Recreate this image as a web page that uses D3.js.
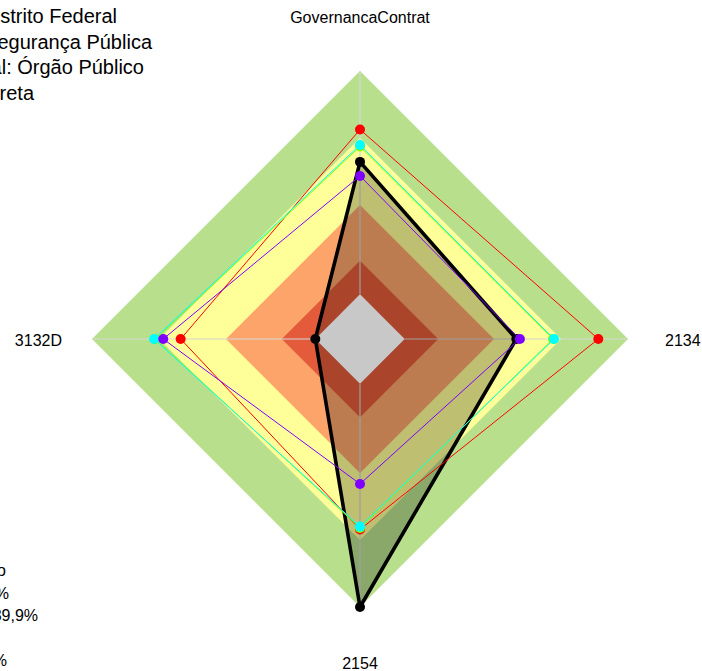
<!DOCTYPE html>
<html>
<head>
<meta charset="utf-8">
<script src="https://cdn.jsdelivr.net/npm/d3@7"></script>
<style>
  html, body { margin: 0; padding: 0; background: #ffffff; }
  svg { display: block; font-family: "Liberation Sans", Arial, sans-serif; }
</style>
</head>
<body>
<svg id="chart" width="702" height="671"></svg>
<script>
// Axes of the radar, clockwise from the top
const axes = ["GovernancaContrat", "2134", "2154", "3132D"];

// Score bands (percent), outermost first, and their fill colours
const bandLimits = [100, 70, 40, 15];
const bandColors = ["#b8e08c", "#ffff99", "#fda46b", "#e35b3a"];

// Series values per axis (percent)
const seriesNames  = ["Órgão", "Média Poder", "Média Esfera", "Média Tipo", "Média Geral"];
const seriesColors = ["#000000", "#ff0000", "#7fff00", "#00ffff", "#8000ff"];
const seriesValues = [
  [59.3, 50.0, 100.0, 0.0],
  [73.8, 86.7, 65.3, 60.3],
  [66.2, 66.4, 64.6, 71.6],
  [66.9, 66.9, 64.0, 72.2],
  [53.0, 51.6, 44.9, 68.1]
];

// Header and legend texts
const titleLines = ["Distrito Federal", "Segurança Pública", "Natureza Institucional: Órgão Público", "Administração Direta"];
const legendLines = ["Classificação", "Inicial: 0 a 14,9%", "Intermediário: 15 a 39,9%", "Aprimorado: 40 a 69,9%", "Avançado: 70 a 100%"];

const svg = d3.select("#chart");
const cx = 360, cy = 339, R = 268;

// fmsb-style radius: value 0 sits on the inner hole (1/6 of the radius)
const r = d3.scaleLinear().domain([0, 100]).range([R / 6, R]);
const angle = d3.scalePoint().domain(axes).range([0, 2 * Math.PI * 3 / 4]);

const pt = (axis, v) => {
  const a = angle(axis) - Math.PI / 2;
  return [cx + r(v) * Math.cos(a), cy + r(v) * Math.sin(a)];
};
const ring = v => axes.map(a => pt(a, v));
const closed = d3.line().curve(d3.curveLinearClosed);

// Coloured score bands
svg.append("g").selectAll("path")
  .data(bandLimits)
  .join("path")
  .attr("d", v => closed(ring(v)))
  .attr("fill", (v, i) => bandColors[i]);

// Axis spokes
svg.append("g").selectAll("line")
  .data(axes)
  .join("line")
  .attr("x1", a => pt(a, 0)[0]).attr("y1", a => pt(a, 0)[1])
  .attr("x2", a => pt(a, 100)[0]).attr("y2", a => pt(a, 100)[1])
  .attr("stroke", "#d6d6d6")
  .attr("stroke-width", 1.2);

// Filled area of the main series
svg.append("path")
  .attr("d", closed(axes.map((a, j) => pt(a, seriesValues[0][j]))))
  .attr("fill", "#000000")
  .attr("fill-opacity", 0.25);

// Empty centre
svg.append("path")
  .attr("d", closed(ring(0)))
  .attr("fill", "#c8c8c8");

// Series outlines and points
seriesValues.forEach((vals, i) => {
  const g = svg.append("g");
  const pts = axes.map((a, j) => pt(a, vals[j]));
  g.append("path")
    .attr("d", closed(pts))
    .attr("fill", "none")
    .attr("stroke", seriesColors[i])
    .attr("stroke-width", i === 0 ? 3.6 : 1)
    .attr("stroke-linejoin", "round");
  g.selectAll("circle")
    .data(pts)
    .join("circle")
    .attr("cx", d => d[0]).attr("cy", d => d[1])
    .attr("r", 5)
    .attr("fill", seriesColors[i]);
});

// Axis labels
const labelPos = [
  { x: cx, y: 23, anchor: "middle" },
  { x: 665, y: 346, anchor: "start" },
  { x: cx, y: 669, anchor: "middle" },
  { x: 62, y: 346, anchor: "end" }
];
svg.append("g").selectAll("text")
  .data(axes)
  .join("text")
  .attr("x", (d, i) => labelPos[i].x)
  .attr("y", (d, i) => labelPos[i].y)
  .attr("text-anchor", (d, i) => labelPos[i].anchor)
  .attr("font-size", 16)
  .attr("fill", "#000")
  .text(d => d);

// Header block (top left)
const titleEnds = [117, 152, 144, 34];
svg.append("g").selectAll("text")
  .data(titleLines)
  .join("text")
  .attr("x", (d, i) => titleEnds[i])
  .attr("y", (d, i) => 23 + i * 25.5)
  .attr("text-anchor", "end")
  .attr("font-size", 20)
  .attr("fill", "#000")
  .text(d => d);

// Legend block (bottom left)
const legendEnds = [6, 9, 38, -4, 7];
svg.append("g").selectAll("text")
  .data(legendLines)
  .join("text")
  .attr("x", (d, i) => legendEnds[i])
  .attr("y", (d, i) => 576 + i * 22.5)
  .attr("text-anchor", "end")
  .attr("font-size", 16)
  .attr("fill", "#000")
  .text(d => d);
</script>
</body>
</html>
